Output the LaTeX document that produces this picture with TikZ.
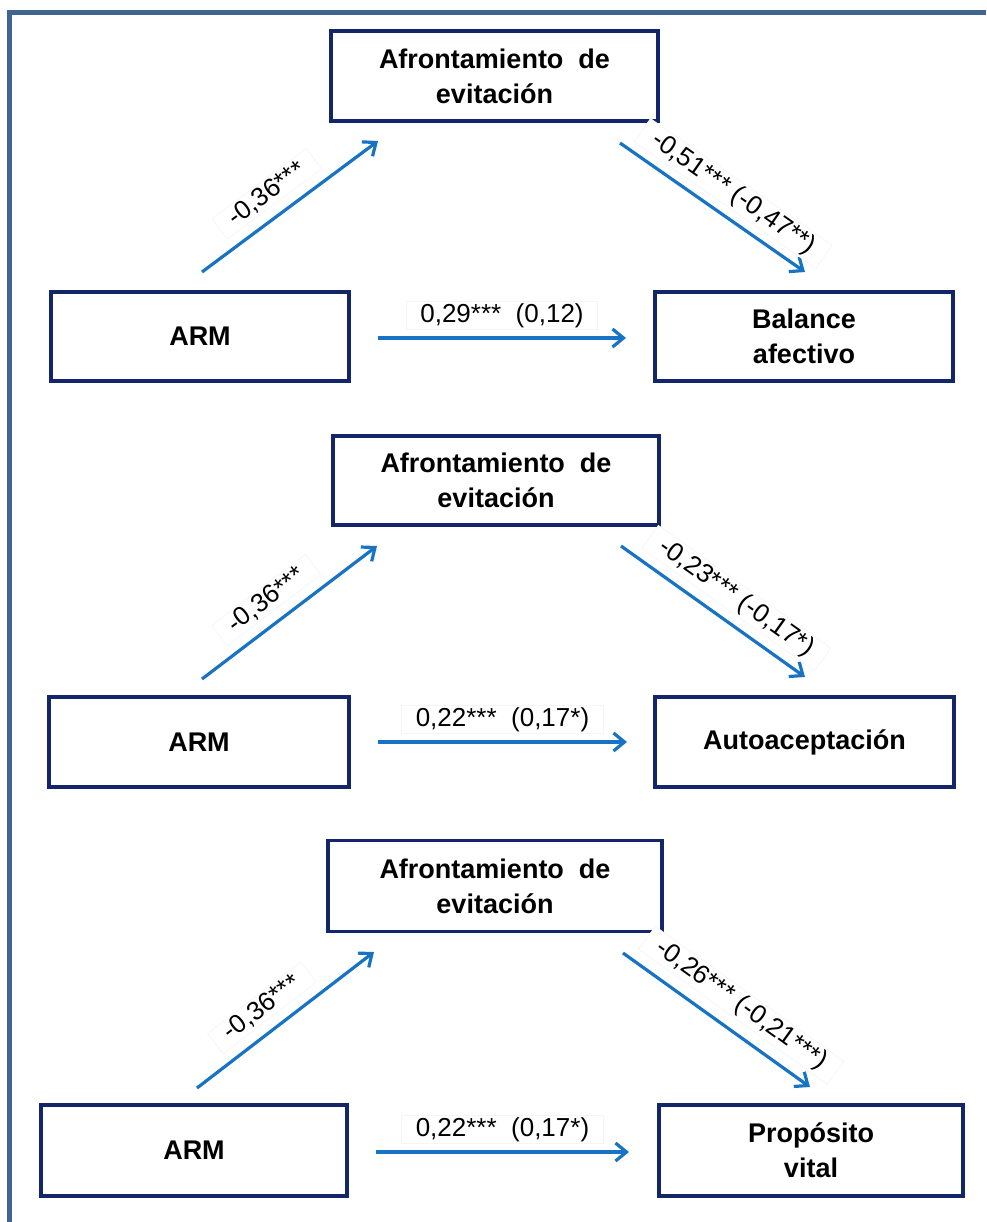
\documentclass[tikz,border=0pt]{standalone}
\usepackage{fontspec}
\setmainfont{Liberation Sans}
\usetikzlibrary{arrows.meta}
\definecolor{framecol}{RGB}{65,101,145}
\definecolor{boxcol}{RGB}{18,38,105}
\definecolor{arrowcol}{RGB}{24,115,196}
\tikzset{
  varbox/.style={draw=boxcol, line width=3.4pt, fill=white, align=center,
    font=\fontsize{27}{35}\selectfont\bfseries, inner sep=0pt},
  patharrow/.style={draw=arrowcol, line width=3.2pt,
    -{Straight Barb[length=11pt,width=18pt]}},
  coef/.style={font=\fontsize{26}{30}\selectfont, fill=white, draw=black!4,
    line width=0.6pt, inner xsep=14pt, inner ysep=2pt},
}
\begin{document}
\begin{tikzpicture}[x=1pt,y=-1pt]
\useasboundingbox (0,0) rectangle (986,1222);
\fill[white] (0,0) rectangle (986,1222);
% outer frame (open to the right and bottom)
\draw[framecol, line width=5pt] (9.5,1222) -- (9.5,12.5) -- (986,12.5);

% ---------- model 1: balance afectivo ----------
\node[varbox, minimum width=327pt, minimum height=90pt] (med1) at (494.5,76) {Afrontamiento\ \ de\\evitación};
\node[varbox, minimum width=298pt, minimum height=89pt] (arm1) at (200,336.5) {ARM};
\node[varbox, minimum width=298pt, minimum height=89pt] (out1) at (804,336.5) {Balance\\afectivo};
\coordinate (a1s) at (202,272);
\coordinate (a1e) at (378,141);
\coordinate (b1s) at (620,143);
\coordinate (b1e) at (805,272);
\coordinate (c1s) at (378,338);
\coordinate (c1e) at (626,338);
\draw[patharrow] (a1s) -- node[coef, pos=0.45, sloped, above=11pt] {-0,36***} (a1e);
\draw[patharrow] (b1s) -- node[coef, pos=0.54, sloped, above=9pt] {-0,51*** (-0,47**)} (b1e);
\draw[patharrow] (c1s) -- node[coef, midway, above=8pt] {0,29***\ \ (0,12)} (c1e);

% ---------- model 2: autoaceptacion ----------
\node[varbox, minimum width=326pt, minimum height=89pt] (med2) at (496,480.5) {Afrontamiento\ \ de\\evitación};
\node[varbox, minimum width=300pt, minimum height=90pt] (arm2) at (199,742) {ARM};
\node[varbox, minimum width=299pt, minimum height=90pt] (out2) at (804.5,742) {Autoaceptación};
\coordinate (a2s) at (202,679);
\coordinate (a2e) at (377,546);
\coordinate (b2s) at (621,546);
\coordinate (b2e) at (805,677);
\coordinate (c2s) at (378,742);
\coordinate (c2e) at (627,742);
\draw[patharrow] (a2s) -- node[coef, pos=0.45, sloped, above=11pt] {-0,36***} (a2e);
\draw[patharrow] (b2s) -- node[coef, pos=0.55, sloped, above=10pt] {-0,23*** (-0,17*)} (b2e);
\draw[patharrow] (c2s) -- node[coef, midway, above=8pt] {0,22***\ \ (0,17*)} (c2e);

% ---------- model 3: proposito vital ----------
\node[varbox, minimum width=334pt, minimum height=91pt] (med3) at (495,886) {Afrontamiento\ \ de\\evitación};
\node[varbox, minimum width=306pt, minimum height=91pt] (arm3) at (194,1150.5) {ARM};
\node[varbox, minimum width=304pt, minimum height=91pt] (out3) at (811,1150.5) {Propósito\\vital};
\coordinate (a3s) at (197,1088);
\coordinate (a3e) at (374,952);
\coordinate (b3s) at (623,953);
\coordinate (b3e) at (810,1087);
\coordinate (c3s) at (376,1152);
\coordinate (c3e) at (629,1152);
\draw[patharrow] (a3s) -- node[coef, pos=0.45, sloped, above=11pt] {-0,36***} (a3e);
\draw[patharrow] (b3s) -- node[coef, pos=0.55, sloped, above=12pt] {-0,26*** (-0,21***)} (b3e);
\draw[patharrow] (c3s) -- node[coef, midway, above=8pt] {0,22***\ \ (0,17*)} (c3e);
\end{tikzpicture}
\end{document}
